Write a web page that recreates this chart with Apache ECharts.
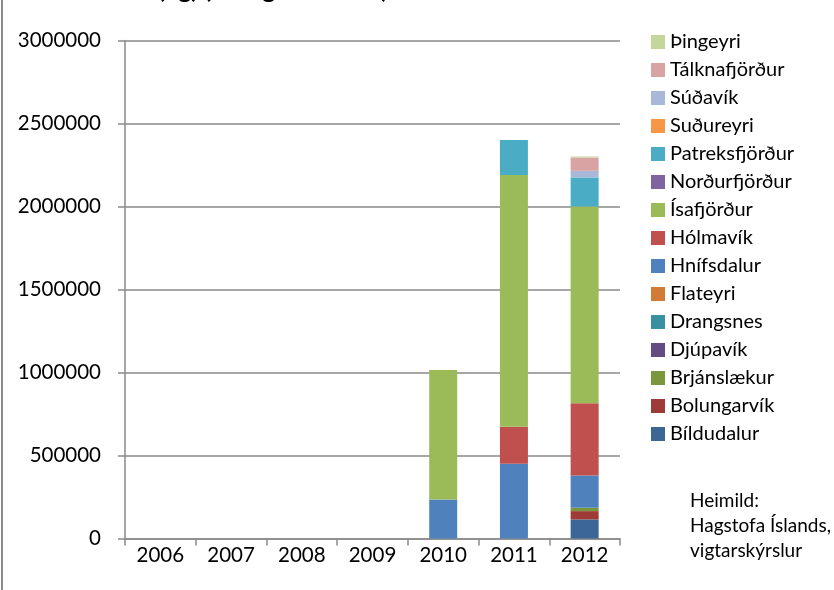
<!DOCTYPE html>
<html>
<head>
<meta charset="utf-8">
<script src="https://cdn.jsdelivr.net/npm/echarts@6/dist/echarts.min.js"></script>
<style>
  html, body { margin: 0; padding: 0; background: #fff; }
  #chart { width: 834px; height: 590px; }
</style>
</head>
<body>
<div id="chart"></div>
<script>
// Years on the category axis
const years = ['2006', '2007', '2008', '2009', '2010', '2011', '2012'];

// Value-axis tick labels
const yTicks = [0, 500000, 1000000, 1500000, 2000000, 2500000, 3000000];

// Landed farmed fish per harbour (kg), stacked bottom to top
const bildudalur     = [0, 0, 0, 0, 0, 0, 115000];
const bolungarvik    = [0, 0, 0, 0, 0, 0, 50000];
const brjanslaekur   = [0, 0, 0, 0, 0, 0, 20000];
const djupavik       = [0, 0, 0, 0, 0, 0, 0];
const drangsnes      = [0, 0, 0, 0, 0, 0, 0];
const flateyri       = [0, 0, 0, 0, 0, 0, 0];
const hnifsdalur     = [0, 0, 0, 0, 235000, 450000, 195000];
const holmavik       = [0, 0, 0, 0, 0, 223000, 435000];
const isafjordur     = [0, 0, 0, 0, 780000, 1517000, 1185000];
const nordurfjordur  = [0, 0, 0, 0, 0, 0, 0];
const patreksfjordur = [0, 0, 0, 0, 0, 210000, 175000];
const sudureyri      = [0, 0, 0, 0, 0, 0, 0];
const sudavik        = [0, 0, 0, 0, 0, 0, 40000];
const talknafjordur  = [0, 0, 0, 0, 0, 0, 80000];
const thingeyri      = [0, 0, 0, 0, 0, 0, 6000];

const seriesDefs = [
  ['Bíldudalur', bildudalur, '#3C6696'],
  ['Bolungarvík', bolungarvik, '#9E3A38'],
  ['Brjánslækur', brjanslaekur, '#7A973D'],
  ['Djúpavík', djupavik, '#634C81'],
  ['Drangsnes', drangsnes, '#3A8FA3'],
  ['Flateyri', flateyri, '#D07B36'],
  ['Hnífsdalur', hnifsdalur, '#4F81BD'],
  ['Hólmavík', holmavik, '#C0504D'],
  ['Ísafjörður', isafjordur, '#9BBB59'],
  ['Norðurfjörður', nordurfjordur, '#8064A2'],
  ['Patreksfjörður', patreksfjordur, '#4BACC6'],
  ['Suðureyri', sudureyri, '#F79646'],
  ['Súðavík', sudavik, '#A9B8D9'],
  ['Tálknafjörður', talknafjordur, '#D9A3A3'],
  ['Þingeyri', thingeyri, '#C3D69B']
];

const FONT = 'Lato, "Open Sans", sans-serif';

const chart = echarts.init(document.getElementById('chart'), null, { renderer: 'canvas' });

chart.setOption({
  animation: false,
  backgroundColor: '#ffffff',
  title: {
    text: 'Eldisfiskur (kg) (óslægður fiskur)',
    left: 32,
    top: -28,
    textStyle: { fontFamily: FONT, fontSize: 25, fontWeight: 'bold', color: '#000' }
  },
  grid: { left: 125, right: 214, top: 40.5, bottom: 51.5, containLabel: false },
  legend: {
    orient: 'vertical',
    left: 646,
    top: 27,
    itemWidth: 14,
    itemHeight: 14,
    itemGap: 8,
    icon: 'rect',
    data: seriesDefs.map(d => d[0]).reverse(),
    textStyle: { fontFamily: FONT, fontSize: 20, color: '#000', lineHeight: 18, padding: [0, 0, 0, 0] }
  },
  xAxis: {
    type: 'category',
    data: years,
    axisLine: { lineStyle: { color: '#8a8a8a', width: 1.5 } },
    axisTick: { show: true, length: 7, lineStyle: { color: '#8a8a8a', width: 1.5 } },
    axisLabel: { fontFamily: FONT, fontSize: 20.5, color: '#000', margin: 6 }
  },
  yAxis: {
    type: 'value',
    min: yTicks[0],
    max: yTicks[yTicks.length - 1],
    interval: yTicks[1] - yTicks[0],
    axisLine: { show: true, lineStyle: { color: '#8a8a8a', width: 1.5 } },
    axisTick: { show: true, length: 7, lineStyle: { color: '#8a8a8a', width: 1.5 } },
    splitLine: { show: true, lineStyle: { color: '#8a8a8a', width: 1.5 } },
    axisLabel: {
      fontFamily: FONT, fontSize: 20.5, color: '#000', margin: 24,
      formatter: v => String(v)
    }
  },
  series: seriesDefs.map(([name, data, color]) => ({
    name,
    type: 'bar',
    stack: 'total',
    barWidth: 28,
    data,
    itemStyle: { color }
  })),
  graphic: [
    {
      type: 'rect',
      shape: { x: 1, y: 0, width: 2, height: 590 },
      style: { fill: '#8a8a8a' }
    },
    {
      type: 'text',
      right: 3,
      top: 488,
      style: {
        text: 'Heimild:\nHagstofa Íslands,\nvigtarskýrslur',
        font: '19px ' + FONT,
        fill: '#000',
        align: 'right',
        lineHeight: 25
      }
    }
  ]
});
</script>
</body>
</html>
